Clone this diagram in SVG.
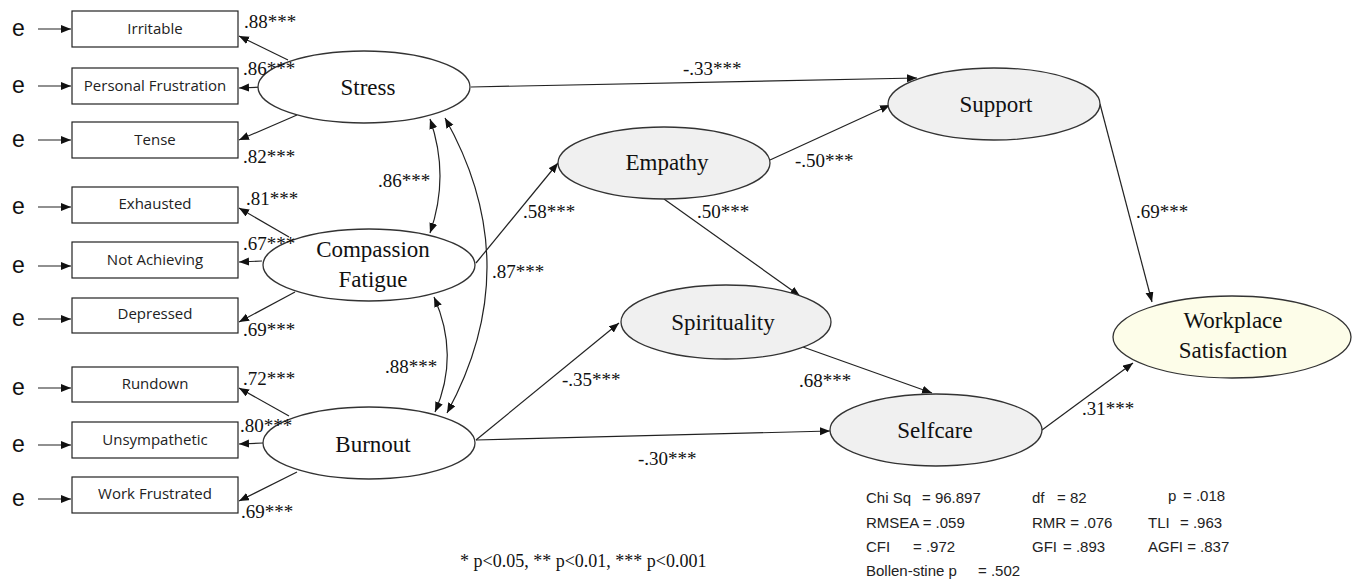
<svg xmlns="http://www.w3.org/2000/svg" width="1359" height="580" viewBox="0 0 1359 580">
<style>
.box{fill:#fff;stroke:#222;stroke-width:1.2}
.lat{stroke:#333;stroke-width:1.3}
.white{fill:#fff}
.grey{fill:#f0f0f0}
.yel{fill:#fdfde9}
.bl{font-family:"Open Sans","Liberation Sans",sans-serif;font-size:15px;fill:#222;text-anchor:middle}
.nl{font-family:"Liberation Serif","Times New Roman",serif;font-size:23px;fill:#111;text-anchor:middle}
.pl{font-family:"Liberation Serif","Times New Roman",serif;font-size:19px;fill:#111}
.e{font-family:"Liberation Sans",Arial,sans-serif;font-size:23px;fill:#111}
.st{font-family:"Liberation Sans",Arial,sans-serif;font-size:15px;fill:#222}
.fn{font-family:"Liberation Serif","Times New Roman",serif;font-size:18px;fill:#111}
.c{fill:none;stroke:#222;stroke-width:1.2;marker-end:url(#ah)}
.cv{fill:none;stroke:#222;stroke-width:1.2;marker-end:url(#ah);marker-start:url(#ah)}
</style>
<defs>
<marker id="ah" markerUnits="userSpaceOnUse" markerWidth="11" markerHeight="9" refX="10" refY="4" orient="auto-start-reverse">
<path d="M0,0 L10,4 L0,8 z" fill="#111"/>
</marker>
</defs>
<rect width="1359" height="580" fill="#fff"/>

<g id="connectors">
<line class="c" x1="38" y1="29" x2="71" y2="29"/>
<line class="c" x1="38" y1="86" x2="71" y2="86"/>
<line class="c" x1="38" y1="140" x2="71" y2="140"/>
<line class="c" x1="38" y1="207" x2="71" y2="207"/>
<line class="c" x1="38" y1="266" x2="71" y2="266"/>
<line class="c" x1="38" y1="319" x2="71" y2="319"/>
<line class="c" x1="38" y1="388" x2="71" y2="388"/>
<line class="c" x1="38" y1="445" x2="71" y2="445"/>
<line class="c" x1="38" y1="499" x2="71" y2="499"/>
<line class="c" x1="288" y1="60" x2="239" y2="36"/>
<line class="c" x1="265" y1="87" x2="239" y2="88"/>
<line class="c" x1="297" y1="115" x2="239" y2="140"/>
<line class="c" x1="289" y1="237" x2="239" y2="208"/>
<line class="c" x1="262" y1="261" x2="239" y2="262"/>
<line class="c" x1="295" y1="292" x2="239" y2="322"/>
<line class="c" x1="289" y1="416" x2="239" y2="388"/>
<line class="c" x1="263" y1="443" x2="239" y2="444"/>
<line class="c" x1="297" y1="472" x2="239" y2="501"/>
<path class="cv" d="M430,119 Q450,176 430,233"/>
<path class="cv" d="M434,297 Q460,355 435,412"/>
<path class="cv" d="M445,118 Q528,265 447,413"/>
<line class="c" x1="471" y1="87" x2="917" y2="78"/>
<line class="c" x1="476" y1="263" x2="558" y2="163"/>
<line class="c" x1="770" y1="160" x2="890" y2="105"/>
<line class="c" x1="664" y1="199" x2="800" y2="296"/>
<line class="c" x1="476" y1="440" x2="619" y2="323"/>
<line class="c" x1="476" y1="440" x2="830" y2="431"/>
<line class="c" x1="803" y1="347" x2="932" y2="393"/>
<line class="c" x1="1100" y1="104" x2="1152" y2="302"/>
<line class="c" x1="1042" y1="430" x2="1133" y2="363"/>
</g>

<g id="e-labels">
<text class="e" x="12" y="36">e</text>
<text class="e" x="12" y="93">e</text>
<text class="e" x="12" y="147">e</text>
<text class="e" x="12" y="214">e</text>
<text class="e" x="12" y="273">e</text>
<text class="e" x="12" y="326">e</text>
<text class="e" x="12" y="395">e</text>
<text class="e" x="12" y="452">e</text>
<text class="e" x="12" y="506">e</text>
</g>

<g id="irritable"><rect class="box" x="72" y="11" width="166" height="36"/><text class="bl" x="155" y="34">Irritable</text></g>
<g id="personal-frustration"><rect class="box" x="72" y="68" width="166" height="36"/><text class="bl" x="155" y="91">Personal Frustration</text></g>
<g id="tense"><rect class="box" x="72" y="122" width="166" height="36"/><text class="bl" x="155" y="145">Tense</text></g>
<g id="exhausted"><rect class="box" x="72" y="187" width="166" height="36"/><text class="bl" x="155" y="209">Exhausted</text></g>
<g id="not-achieving"><rect class="box" x="72" y="242" width="166" height="36"/><text class="bl" x="155" y="265">Not Achieving</text></g>
<g id="depressed"><rect class="box" x="72" y="298" width="166" height="35"/><text class="bl" x="155" y="319">Depressed</text></g>
<g id="rundown"><rect class="box" x="72" y="367" width="166" height="35"/><text class="bl" x="155" y="389">Rundown</text></g>
<g id="unsympathetic"><rect class="box" x="72" y="422" width="166" height="36"/><text class="bl" x="155" y="445">Unsympathetic</text></g>
<g id="work-frustrated"><rect class="box" x="72" y="477" width="166" height="36"/><text class="bl" x="155" y="499">Work Frustrated</text></g>

<g id="stress"><ellipse class="lat white" cx="364" cy="87" rx="106" ry="36"/><text class="nl" x="368" y="95">Stress</text></g>
<g id="compassion-fatigue"><ellipse class="lat white" cx="369" cy="265" rx="106" ry="36"/><text class="nl" x="373" y="257">Compassion</text><text class="nl" x="373" y="287">Fatigue</text></g>
<g id="burnout"><ellipse class="lat white" cx="369" cy="443" rx="106" ry="36"/><text class="nl" x="373" y="452">Burnout</text></g>
<g id="empathy"><ellipse class="lat grey" cx="664" cy="163" rx="106" ry="36"/><text class="nl" x="667" y="170">Empathy</text></g>
<g id="support"><ellipse class="lat grey" cx="994" cy="104" rx="106" ry="36"/><text class="nl" x="996" y="112">Support</text></g>
<g id="spirituality"><ellipse class="lat grey" cx="726" cy="322" rx="105" ry="37"/><text class="nl" x="723" y="330">Spirituality</text></g>
<g id="selfcare"><ellipse class="lat grey" cx="936" cy="430" rx="106" ry="36"/><text class="nl" x="935" y="438">Selfcare</text></g>
<g id="workplace-satisfaction"><ellipse class="lat yel" cx="1232" cy="337" rx="119" ry="41"/><text class="nl" x="1233" y="328">Workplace</text><text class="nl" x="1233" y="358">Satisfaction</text></g>

<g id="path-labels">
<text class="pl" x="244" y="28">.88***</text>
<text class="pl" x="243" y="75">.86***</text>
<text class="pl" x="243" y="163">.82***</text>
<text class="pl" x="246" y="205">.81***</text>
<text class="pl" x="243" y="250">.67***</text>
<text class="pl" x="243" y="336">.69***</text>
<text class="pl" x="243" y="385">.72***</text>
<text class="pl" x="240" y="432">.80***</text>
<text class="pl" x="241" y="518">.69***</text>
<text class="pl" x="378" y="187">.86***</text>
<text class="pl" x="385" y="373">.88***</text>
<text class="pl" x="492" y="278">.87***</text>
<text class="pl" x="523" y="218">.58***</text>
<text class="pl" x="683" y="75">-.33***</text>
<text class="pl" x="795" y="167">-.50***</text>
<text class="pl" x="697" y="218">.50***</text>
<text class="pl" x="562" y="386">-.35***</text>
<text class="pl" x="799" y="387">.68***</text>
<text class="pl" x="638" y="465">-.30***</text>
<text class="pl" x="1136" y="218">.69***</text>
<text class="pl" x="1082" y="415">.31***</text>
</g>

<g id="fit-stats">
<text class="st" x="866" y="503">Chi Sq</text><text class="st" x="922" y="503">= 96.897</text>
<text class="st" x="1032" y="503">df</text><text class="st" x="1057" y="503">= 82</text>
<text class="st" x="1168" y="501">p</text><text class="st" x="1183" y="501">= .018</text>
<text class="st" x="866" y="528">RMSEA = .059</text>
<text class="st" x="1032" y="528">RMR = .076</text>
<text class="st" x="1148" y="528">TLI</text><text class="st" x="1180" y="528">= .963</text>
<text class="st" x="866" y="552">CFI</text><text class="st" x="913" y="552">= .972</text>
<text class="st" x="1032" y="552">GFI</text><text class="st" x="1063" y="552">= .893</text>
<text class="st" x="1148" y="552">AGFI = .837</text>
<text class="st" x="866" y="576">Bollen-stine p</text><text class="st" x="978" y="576">= .502</text>
</g>

<g id="footnote">
<text class="fn" x="460" y="567">* p&lt;0.05, ** p&lt;0.01, *** p&lt;0.001</text>
</g>
</svg>
